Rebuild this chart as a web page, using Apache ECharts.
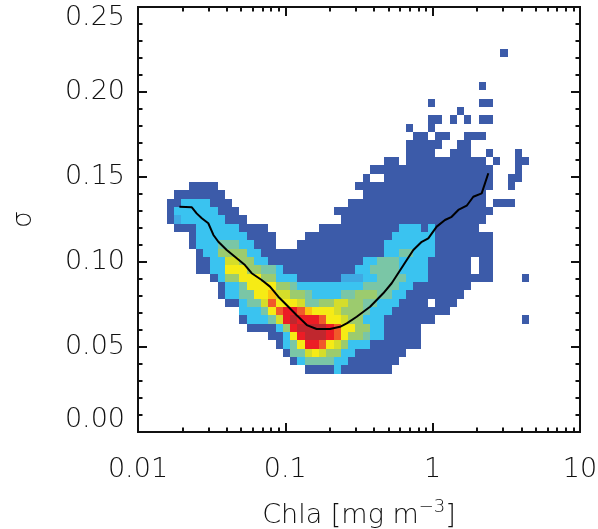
<!DOCTYPE html>
<html>
<head>
<meta charset="utf-8">
<script src="https://cdn.jsdelivr.net/npm/echarts@6/dist/echarts.min.js"></script>
<style>
  html, body { margin: 0; padding: 0; background: #fff; }
  #chart { width: 598px; height: 529px; }
</style>
</head>
<body>
<div id="chart"></div>
<script>
// Histogram grid: log10(Chla) from -2 to 1 in 61 bins, sigma from 0 to 0.25 in 51 bins.
const X_LOG_RANGE = [-2, 1];
const Y_RANGE = [0, 0.25];
const N_X = 61;
const N_Y = 51;

// Density class per cell, top row (highest sigma) first, one char per Chla bin.
// '.' = empty, '1'..'b' = increasing counts. Spaces only group columns by ten.
const densityRows = [
  ".......... .......... .......... .......... .......... .......... .", // 50
  ".......... .......... .......... .......... .......... .......... .",
  ".......... .......... .......... .......... .......... .......... .",
  ".......... .......... .......... .......... .......... .......... .",
  ".......... .......... .......... .......... .......... .......... .",
  ".......... .......... .......... .......... .......... 1......... .", // 45
  ".......... .......... .......... .......... .......... .......... .",
  ".......... .......... .......... .......... .......... .......... .",
  ".......... .......... .......... .......... .......... .......... .",
  ".......... .......... .......... .......... .......1.. .......... .", // 41
  ".......... .......... .......... .......... .......... .......... .", // 40
  ".......... .......... .......... .......... 1......11. .......... .",
  ".......... .......... .......... .......... ....1..... .......... .",
  ".......... .......... .......... .......... 11.1.1.11. .......... .",
  ".......... .......... .......... .......1.. 1......... .......... .",
  ".......... .......... .......... ........11 .11..111.. .......... .", // 35
  ".......... .......... .......... .......111 11..11.... .......... .",
  ".......... .......... .......... .......111 1..111..1. ..1....... .",
  ".......... .......... .......... ....11.111 11111111.1 ..11...... .",
  ".......... .......... .......... ..11111111 111111111. ..1....... .",
  ".......... .......... .......... .1..111111 111111111. .11....... .", // 30
  ".......111 1......... .......... 1111111111 111111111. .1........ .",
  ".....11111 11........ .......... .111111111 11111111.. .......... .",
  "....113333 111....... .........1 1111111111 11111111.1 11........ .",
  "....133333 3111...... .......111 1111111111 111111111. .......... .",
  "....123333 33111..... ........11 1111111111 11111111.. .......... .", // 25
  ".....11133 33331111.. .....11111 1111113331 3111111... .......... .",
  ".......133 333331111. ...1111111 1111133333 311111111. .......... .",
  ".......133 344433111. ..11111111 1111333333 311111111. .......... .",
  "........13 3555533111 1111111111 1111334433 311111111. .......... .",
  "........11 3366553311 1111111111 1334443333 111111.11. .......... .", // 20
  "........11 3377755443 1111111111 3344443333 111111.11. .......... .",
  ".......... 1355777553 3311111122 2334444333 111111111. ...1...... .",
  ".......... .133477775 5433333333 3444443311 111111.... .......... .",
  ".......... .133447786 6554333344 5554433111 11111..... .......... .",
  ".......... ..11344697 7764455665 5443331111 .111...... .......... .", // 15
  ".......... ....333479 aa98777655 5433311111 111....... .......... .",
  ".......... ....133346 abaaa97765 5333111111 1......... ...1...... .",
  ".......... .....11113 5abbbba977 553311111. .......... .......... .",
  ".......... ........11 37abbba975 543311111. .......... .......... .",
  ".......... .........1 347aa97653 331111111. .......... .......... .", // 10
  ".......... .......... 1446765533 1111111... .......... .......... .",
  ".......... .......... .134444331 111111.... .......... .......... .",
  ".......... .......... ...1111311 11111..... .......... .......... .",
  ".......... .......... .......... .......... .......... .......... .",
  ".......... .......... .......... .......... .......... .......... .", // 5
  ".......... .......... .......... .......... .......... .......... .",
  ".......... .......... .......... .......... .......... .......... .",
  ".......... .......... .......... .......... .......... .......... .",
  ".......... .......... .......... .......... .......... .......... .",
  ".......... .......... .......... .......... .......... .......... ."  // 0
];

const densityColors = {
  '1': '#3c5ba9', '2': '#3fa9e3', '3': '#3ac3f0', '4': '#7ac6a6',
  '5': '#9ccb6e', '6': '#d5dd2a', '7': '#f6eb15', '8': '#fdc010',
  '9': '#f15a2a', 'a': '#ec1d25', 'b': '#c0272e'
};

// Running median of sigma against Chla.
const medianChla = [0.0191, 0.0232, 0.0250, 0.0271, 0.0300, 0.0325, 0.0351, 0.0400,
  0.0468, 0.0532, 0.0591, 0.0691, 0.0787, 0.0896, 0.102, 0.119, 0.140, 0.163,
  0.201, 0.235, 0.261, 0.305, 0.376, 0.462, 0.527, 0.667, 0.739, 0.843, 0.934,
  1.065, 1.212, 1.346, 1.493, 1.702, 1.887, 2.151, 2.386];
const medianSigma = [0.1325, 0.1322, 0.1286, 0.1257, 0.1228, 0.1159, 0.1119, 0.1071,
  0.1022, 0.0982, 0.0934, 0.0894, 0.0855, 0.0796, 0.0747, 0.0688, 0.0629, 0.0606,
  0.0606, 0.0619, 0.0639, 0.0678, 0.0737, 0.0816, 0.0875, 0.1012, 0.1071, 0.1119,
  0.1139, 0.1208, 0.1247, 0.1266, 0.1306, 0.1331, 0.1384, 0.1404, 0.1522];

const xMajorTicks = [0.01, 0.1, 1, 10];
const xMinorTicks = [];
for (const decade of [0.01, 0.1, 1]) {
  for (let m = 2; m <= 9; m++) xMinorTicks.push(+(m * decade).toPrecision(3));
}

// ---- build cells -------------------------------------------------------
const xStep = (X_LOG_RANGE[1] - X_LOG_RANGE[0]) / N_X;
const yStep = (Y_RANGE[1] - Y_RANGE[0]) / N_Y;
const cells = [];
densityRows.forEach((row, r) => {
  const chars = row.replace(/ /g, '');
  const j = N_Y - 1 - r;
  for (let k = 0; k < chars.length; k++) {
    const c = chars[k];
    if (c === '.') continue;
    const xc = Math.pow(10, X_LOG_RANGE[0] + (k + 0.5) * xStep);
    const yc = Y_RANGE[0] + (j + 0.5) * yStep;
    cells.push([xc, yc, k, j, c]);
  }
});

function renderCell(params, api) {
  const k = api.value(2), j = api.value(3);
  const c = cells[params.dataIndex][4];
  const x0 = Math.pow(10, X_LOG_RANGE[0] + k * xStep);
  const x1 = Math.pow(10, X_LOG_RANGE[0] + (k + 1) * xStep);
  const y0 = Y_RANGE[0] + j * yStep;
  const y1 = Y_RANGE[0] + (j + 1) * yStep;
  const pTL = api.coord([x0, y1]);
  const pBR = api.coord([x1, y0]);
  const l = Math.round(pTL[0]), t = Math.round(pTL[1]);
  const r = Math.round(pBR[0]), b = Math.round(pBR[1]);
  return {
    type: 'rect',
    shape: { x: l, y: t, width: r - l, height: b - t },
    style: { fill: densityColors[c] }
  };
}

const FONT = 'DejaVu Sans';
const INK = '#111';
const labelBase = { fontFamily: FONT, fontSize: 27, color: INK, fontWeight: 200 };

function xAxisDef(position, ticks, len, withLabels) {
  return {
    type: 'log', logBase: 10, min: 0.01, max: 10, position: position,
    axisLine: { show: withLabels !== null, onZero: false, lineStyle: { color: INK, width: 2 } },
    axisTick: { show: true, inside: true, length: len, customValues: ticks,
                lineStyle: { color: INK, width: 2 } },
    axisLabel: withLabels ? Object.assign({ margin: 24, customValues: xMajorTicks,
                formatter: v => String(+v.toPrecision(3)) }, labelBase) : { show: false },
    splitLine: { show: false }
  };
}

const yLabelFormatter = v => {
  const s = v.toFixed(2);
  if (Math.abs(v - Y_RANGE[1]) < 1e-9) return '{top|' + s + '}';
  if (Math.abs(v - Y_RANGE[0]) < 1e-9) return '{bot|' + s + '}';
  return s;
};

function yAxisDef(position, withLabels) {
  return {
    type: 'value', min: Y_RANGE[0], max: Y_RANGE[1], interval: 0.05, position: position,
    axisLine: { show: true, onZero: false, lineStyle: { color: INK, width: 2 } },
    axisTick: { show: true, inside: true, length: 9, lineStyle: { color: INK, width: 2 } },
    minorTick: { show: true, splitNumber: 5, length: 4.5, lineStyle: { color: INK, width: 2 } },
    minorSplitLine: { show: false },
    splitLine: { show: false },
    axisLabel: withLabels ? Object.assign({
      margin: 13, formatter: yLabelFormatter,
      rich: {
        top: Object.assign({ padding: [22, 0, 0, 0] }, labelBase),
        bot: Object.assign({ padding: [0, 0, 24, 0] }, labelBase)
      }
    }, labelBase) : { show: false },
    name: withLabels ? 'σ' : '',
    nameLocation: 'middle', nameGap: 101, nameRotate: 90,
    nameTextStyle: { fontFamily: FONT, fontSize: 27, color: INK, fontWeight: 200 }
  };
}

const xMain = xAxisDef('bottom', xMajorTicks, 9, true);
xMain.name = 'Chla [mg m{sup|−3}]';
xMain.nameLocation = 'middle';
xMain.nameGap = 66;
xMain.nameTextStyle = Object.assign({
  rich: { sup: { fontFamily: FONT, fontSize: 18, color: INK, fontWeight: 200, padding: [0, 0, 17, 0] } }
}, labelBase, { fontSize: 27 });

const chart = echarts.init(document.getElementById('chart'), null, { renderer: 'canvas' });
chart.setOption({
  animation: false,
  backgroundColor: '#fff',
  grid: { left: 138, right: 18, top: 7, bottom: 97, containLabel: false, outerBoundsMode: 'none' },
  xAxis: [
    xMain,
    xAxisDef('bottom', xMinorTicks, 4.5, false),
    xAxisDef('top', xMajorTicks, 9, false),
    xAxisDef('top', xMinorTicks, 4.5, false)
  ],
  yAxis: [yAxisDef('left', true), yAxisDef('right', false)],
  series: [
    {
      type: 'custom',
      xAxisIndex: 0, yAxisIndex: 0,
      renderItem: renderCell,
      encode: { x: 0, y: 1 },
      data: cells,
      clip: true,
      silent: true,
      z: 1
    },
    {
      type: 'line',
      xAxisIndex: 0, yAxisIndex: 0,
      data: medianChla.map((x, i) => [x, medianSigma[i]]),
      showSymbol: false,
      smooth: false,
      lineStyle: { color: '#000', width: 2 },
      silent: true,
      z: 3
    }
  ]
});
</script>
</body>
</html>
